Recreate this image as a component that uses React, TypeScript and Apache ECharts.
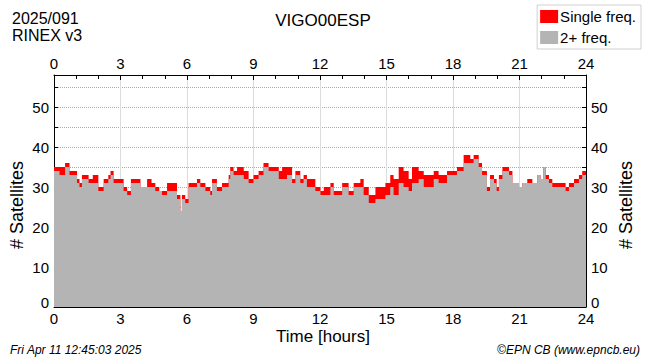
import React, { useEffect, useRef } from "react";
import * as echarts from "echarts";

const FONT = "'Liberation Sans', Arial, Helvetica, sans-serif";

// segment start times [hours]
const hours = [
  0.0, 0.25, 0.5, 0.7, 1.04, 1.15, 1.26, 1.56, 1.75, 2.0, 2.24, 2.45, 2.55, 2.69, 3.14, 3.3, 3.47, 3.9, 4.2, 4.4,
  4.57, 4.75, 4.87, 5.1, 5.55, 5.7, 5.77, 5.92, 6.07, 6.45, 6.6, 6.83, 7.05, 7.13, 7.35, 7.58, 7.88, 7.95, 8.1, 8.26,
  8.56, 8.78, 9.0, 9.23, 9.45, 9.68, 10.14, 10.29, 10.51, 10.74, 10.89, 11.11, 11.26, 11.41, 11.79, 12.02, 12.17, 12.47, 12.62, 13.0,
  13.29, 13.52, 13.82, 13.97, 14.2, 14.5, 14.95, 15.17, 15.32, 15.55, 15.77, 16.0, 16.15, 16.45, 16.68, 17.13, 17.35, 17.73, 17.95, 18.18,
  18.48, 18.78, 18.93, 19.16, 19.31, 19.53, 19.67, 19.85, 19.97, 20.07, 20.23, 20.53, 20.68, 20.98, 21.13, 21.35, 21.58, 21.8, 21.95, 22.07,
  22.18, 22.33, 22.48, 23.08, 23.23, 23.46, 23.68, 23.83, 24.0,
];

// satellites tracked on 2+ frequencies
const dualFreq = [
  34, 33, 35, 33, 31, 30, 32, 31, 31, 29, 31, 32, 33, 31, 29, 28, 31, 30, 30, 30,
  29, 29, 28, 29, 27, 24, 27, 26, 30, 31, 30, 29, 28, 31, 29, 30, 32, 34, 33, 33,
  32, 31, 32, 33, 35, 34, 32, 32, 33, 31, 33, 31, 32, 30, 29, 28, 28, 30, 28, 30,
  28, 30, 30, 28, 26, 27, 28, 30, 28, 31, 30, 29, 31, 32, 30, 32, 31, 33, 33, 34,
  36, 36, 37, 35, 33, 29, 32, 31, 29, 32, 34, 33, 31, 30, 31, 31, 31, 33, 32, 35,
  32, 31, 30, 29, 30, 31, 32, 33, 33,
];

// satellites tracked on a single frequency only
const singleFreq = [
  1, 2, 1, 1, 1, 1, 1, 1, 2, 1, 1, 1, 1, 1, 1, 1, 1, 0, 2, 1,
  1, 0, 1, 2, 1, 0, 1, 1, 1, 1, 1, 1, 1, 1, 1, 1, 1, 1, 1, 2,
  2, 1, 1, 1, 1, 1, 2, 3, 2, 1, 1, 1, 1, 2, 1, 1, 2, 1, 1, 1,
  1, 1, 2, 2, 2, 3, 3, 3, 4, 4, 4, 3, 4, 2, 3, 2, 2, 1, 1, 1,
  2, 1, 1, 1, 1, 1, 1, 1, 1, 1, 1, 1, 0, 0, 0, 1, 0, 0, 0, 0,
  1, 1, 1, 1, 1, 1, 1, 1, 1,
];

const xTicks = [0, 3, 6, 9, 12, 15, 18, 21, 24];
const yLabels = [0, 10, 20, 30, 40, 50];

const stationName = "VIGO00ESP";
const dateLabel = "2025/091";
const rinexLabel = "RINEX v3";
const footerLeft = "Fri Apr 11 12:45:03 2025";
const footerRight = "\u00A9EPN CB (www.epncb.eu)";

export default function App() {
  const ref = useRef<HTMLDivElement>(null);

  useEffect(() => {
    if (!ref.current) return;
    const chart = echarts.init(ref.current, null, { renderer: "svg" });

    const xAxisBase = (pos: "top" | "bottom", grid: boolean) => ({
      type: "value",
      position: pos,
      min: xTicks[0],
      max: xTicks[xTicks.length - 1],
      interval: 3,
      axisLine: { show: true, onZero: false, lineStyle: { color: "#000", width: 1 } },
      axisTick: { show: true, inside: true, length: 5, lineStyle: { color: "#000" } },
      minorTick: { show: true, splitNumber: 3, length: 4, lineStyle: { color: "#000" } },
      axisLabel: { show: true, fontSize: 15, color: "#000", fontFamily: FONT, margin: 4 },
      splitLine: { show: grid, lineStyle: { color: "#dcdcdc", width: 1 } },
    });

    const yAxisBase = (pos: "left" | "right", grid: boolean) => ({
      type: "value",
      position: pos,
      min: 0,
      max: 58,
      interval: 5,
      axisLine: { show: true, onZero: false, lineStyle: { color: "#000", width: 1 } },
      axisTick: { show: true, inside: true, length: 4, lineStyle: { color: "#000" } },
      axisLabel: {
        show: true,
        fontSize: 15,
        color: "#000",
        fontFamily: FONT,
        margin: 5,
        formatter: (v: number) =>
          v === 0 ? "{z|0}" : yLabels.indexOf(v) >= 0 ? String(v) : "",
        rich: {
          z: { fontSize: 15, color: "#000", fontFamily: FONT, padding: [0, 0, 9, 0] },
        },
      },
      splitLine: { show: grid, lineStyle: { color: "#aaaaaa", type: "dotted", width: 1 } },
    });

    const text = (t: string, x: number, y: number, size: number, align = "left", extra: any = {}) => ({
      type: "text",
      x,
      y,
      ...extra,
      style: {
        text: t,
        fontSize: size,
        fontFamily: FONT,
        fill: "#000",
        textAlign: align,
        align,
        textVerticalAlign: "middle",
        verticalAlign: "middle",
        ...(extra.style || {}),
      },
    });

    const totals = hours.map((h, i) => [h, dualFreq[i] + singleFreq[i]]);

    chart.setOption({
      animation: false,
      backgroundColor: "#fff",
      textStyle: { fontFamily: FONT },
      grid: { left: 54, right: 64, top: 75, bottom: 55, show: false },
      legend: {
        right: 9,
        top: 5,
        orient: "vertical",
        icon: "rect",
        itemWidth: 18,
        itemHeight: 13,
        itemGap: 6,
        padding: [4, 5, 4, 3],
        borderColor: "#d0d0d0",
        borderWidth: 1,
        textStyle: { fontSize: 15, color: "#000", fontFamily: FONT, padding: [0, 0, 0, -3] },
        data: ["Single freq.", "2+ freq."],
      },
      xAxis: [xAxisBase("bottom", true), xAxisBase("top", false)],
      yAxis: [yAxisBase("left", true), yAxisBase("right", false)],
      graphic: [
        text(dateLabel, 12, 18.5, 16, "left", { style: { lineHeight: 16 } }),
        text(rinexLabel, 12, 35, 16, "left", { style: { lineHeight: 16 } }),
        text(stationName, 323, 20, 17, "center"),
        text("Time [hours]", 323, 336, 17, "center", { style: { lineHeight: 17 } }),
        text("# Satellites", 17, 205, 18, "center", { rotation: Math.PI / 2 }),
        text("# Satellites", 626, 205, 18, "center", { rotation: Math.PI / 2 }),
        text(footerLeft, 10, 350, 12, "left", { style: { fontStyle: "italic" } }),
        text(footerRight, 640, 350, 12, "right", { style: { fontStyle: "italic" } }),
      ],
      series: [
        {
          name: "Single freq.",
          type: "line",
          step: "end",
          symbol: "none",
          showSymbol: false,
          z: 2,
          lineStyle: { width: 0 },
          itemStyle: { color: "#ff0000" },
          areaStyle: { color: "#ff0000", opacity: 1 },
          data: totals,
        },
        {
          name: "2+ freq.",
          type: "line",
          step: "end",
          symbol: "none",
          showSymbol: false,
          z: 3,
          lineStyle: { width: 0 },
          itemStyle: { color: "#b4b4b4" },
          areaStyle: { color: "#b4b4b4", opacity: 1 },
          data: hours.map((h, i) => [h, dualFreq[i]]),
        },
      ],
    });

    return () => chart.dispose();
  }, []);

  return (
    <div
      ref={ref}
      style={{ position: "absolute", left: 0, top: 0, width: 650, height: 362 }}
    />
  );
}
